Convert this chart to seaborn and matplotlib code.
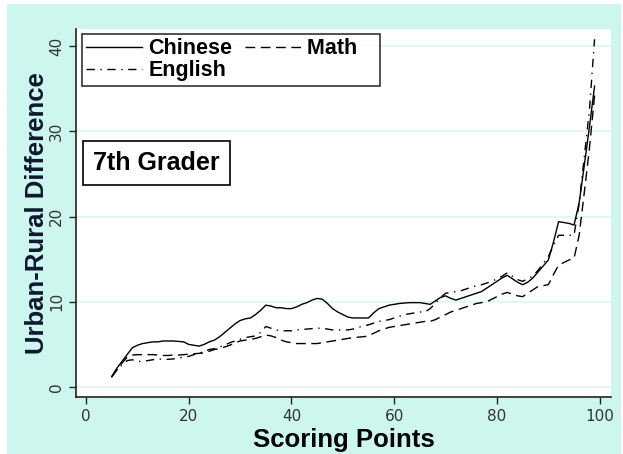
import numpy as np
import pandas as pd
import matplotlib.pyplot as plt
import seaborn as sns
from matplotlib.patches import Rectangle

# Scoring points (percentiles)
points = list(range(5, 100))

chinese = [1.2, 2.2, 3.0, 3.8, 4.6, 4.9, 5.1, 5.2, 5.3, 5.3, 5.4, 5.4, 5.4, 5.35, 5.3,
           5.0, 4.9, 4.8, 5.0, 5.3, 5.5, 5.9, 6.4, 6.9, 7.4, 7.8, 8.0, 8.1, 8.5, 9.0,
           9.6, 9.5, 9.3, 9.3, 9.2, 9.2, 9.4, 9.7, 9.9, 10.2, 10.4, 10.3, 9.8, 9.2, 8.8,
           8.5, 8.2, 8.1, 8.1, 8.1, 8.1, 8.7, 9.2, 9.4, 9.6, 9.7, 9.8, 9.85, 9.9, 9.9,
           9.9, 9.8, 9.7, 10.1, 10.5, 10.7, 10.4, 10.2, 10.4, 10.6, 10.8, 11.0, 11.2, 11.6, 12.0,
           12.4, 12.8, 13.1, 12.7, 12.3, 12.0, 12.3, 12.8, 13.5, 14.2, 14.9, 17.0, 19.4, 19.3, 19.2,
           19.0, 21.6, 26.0, 30.5, 35.3]

math = [1.2, 2.0, 2.8, 3.5, 3.75, 3.8, 3.8, 3.8, 3.8, 3.75, 3.7, 3.7, 3.75, 3.75, 3.8,
        3.85, 3.9, 3.95, 4.0, 4.2, 4.4, 4.5, 4.7, 4.9, 5.2, 5.4, 5.5, 5.6, 5.7, 5.9,
        6.1, 6.0, 5.8, 5.5, 5.3, 5.2, 5.1, 5.1, 5.1, 5.1, 5.1, 5.2, 5.3, 5.4, 5.5,
        5.6, 5.7, 5.8, 5.85, 5.9, 6.0, 6.3, 6.6, 6.8, 7.0, 7.1, 7.2, 7.3, 7.4, 7.5,
        7.6, 7.7, 7.7, 7.9, 8.2, 8.5, 8.8, 9.0, 9.2, 9.4, 9.6, 9.8, 9.9, 10.0, 10.3,
        10.6, 10.9, 11.1, 10.9, 10.7, 10.6, 11.0, 11.4, 11.8, 11.9, 12.0, 13.2, 14.3, 14.6, 14.9,
        15.1, 17.8, 22.8, 28.0, 34.2]

english = [1.2, 2.0, 2.6, 3.1, 3.2, 3.0, 3.0, 3.1, 3.2, 3.3, 3.25, 3.25, 3.3, 3.4, 3.5,
           3.6, 3.8, 3.95, 4.2, 4.4, 4.5, 4.7, 4.9, 5.2, 5.4, 5.6, 5.8, 5.9, 6.0, 6.4,
           7.1, 6.9, 6.7, 6.6, 6.6, 6.6, 6.7, 6.75, 6.8, 6.85, 6.9, 6.9, 6.8, 6.7, 6.7,
           6.7, 6.7, 6.8, 7.0, 7.15, 7.3, 7.5, 7.7, 7.8, 7.9, 8.1, 8.3, 8.5, 8.6, 8.7,
           8.8, 8.8, 9.2, 9.8, 10.5, 11.0, 11.1, 11.2, 11.3, 11.5, 11.7, 11.9, 12.0, 12.2, 12.4,
           12.7, 13.0, 13.4, 13.0, 12.6, 12.4, 12.7, 13.0, 13.7, 14.5, 15.3, 16.6, 17.8, 17.8, 17.8,
           17.8, 21.5, 27.0, 32.5, 40.8]

subjects = ["Chinese", "Math", "English"]

df = pd.DataFrame({"Scoring Points": points, "Chinese": chinese,
                   "Math": math, "English": english})
df = df.melt(id_vars="Scoring Points", var_name="Subject", value_name="Difference")

mint = "#CDF7EE"
grid = "#DDF5F0"

fig = plt.figure(figsize=(6.23, 4.54), dpi=100, facecolor="white")
fig.patches.append(Rectangle((7 / 623, 0), 614 / 623, 450 / 454,
                             transform=fig.transFigure, facecolor=mint,
                             edgecolor="none", zorder=-10))
ax = fig.add_axes([76 / 623, 1 - 397 / 454, 535 / 623, 368 / 454])
ax.set_facecolor("white")

sns.lineplot(data=df, x="Scoring Points", y="Difference", hue="Subject",
             style="Subject", hue_order=subjects, style_order=subjects,
             palette=["black", "black", "black"],
             dashes=[(None, None), (7, 4), (6, 4, 1, 4)],
             linewidth=1.0, ax=ax, legend=False)

ax.set_xlim(-1.95, 102.2)
ax.set_ylim(-1.17, 42.0)
ax.set_xticks([0, 20, 40, 60, 80, 100])
ax.set_yticks([0, 10, 20, 30, 40])
for y in [0, 10, 20, 30, 40]:
    ax.axhline(y, color=grid, linewidth=1.2, zorder=0)

for side in ["top", "right"]:
    ax.spines[side].set_visible(False)
for side in ["left", "bottom"]:
    ax.spines[side].set_color("#222222")
    ax.spines[side].set_linewidth(1.2)

ax.tick_params(axis="both", direction="out", length=5, width=1,
               color="#222222", labelsize=11, labelcolor="#333333")
plt.setp(ax.get_yticklabels(), rotation=90, va="center")

ax.set_xlabel("Scoring Points", fontsize=18.5, fontweight="bold",
              family="Liberation Sans", labelpad=3)
ax.set_ylabel("Urban-Rural Difference", fontsize=18.5, fontweight="bold",
              family="Liberation Sans", color="#101830", labelpad=0)

lines = ax.get_lines()
# column-wise fill: Chinese, English | Math
lg = ax.legend(handles=[lines[0], lines[2], lines[1]],
               labels=["Chinese", "English", "Math   "], ncol=2,
               loc="upper left", bbox_to_anchor=(6 / 535, 1 - 5 / 368),
               frameon=True, fancybox=False, edgecolor="black",
               prop={"family": "Liberation Sans", "weight": "bold", "size": 15.5},
               handlelength=2.6, handletextpad=0.28, columnspacing=0.6,
               borderpad=0.2, labelspacing=0.05, borderaxespad=0)
lg.get_frame().set_linewidth(1.2)

ax.text(0.032, 0.636, "7th Grader", transform=ax.transAxes, fontsize=18,
        fontweight="bold", family="Liberation Sans", va="center", ha="left",
        bbox=dict(boxstyle="square,pad=0.4", facecolor="white",
                  edgecolor="black", linewidth=1.2))

fig.savefig("out.png", dpi=100, facecolor="white")
